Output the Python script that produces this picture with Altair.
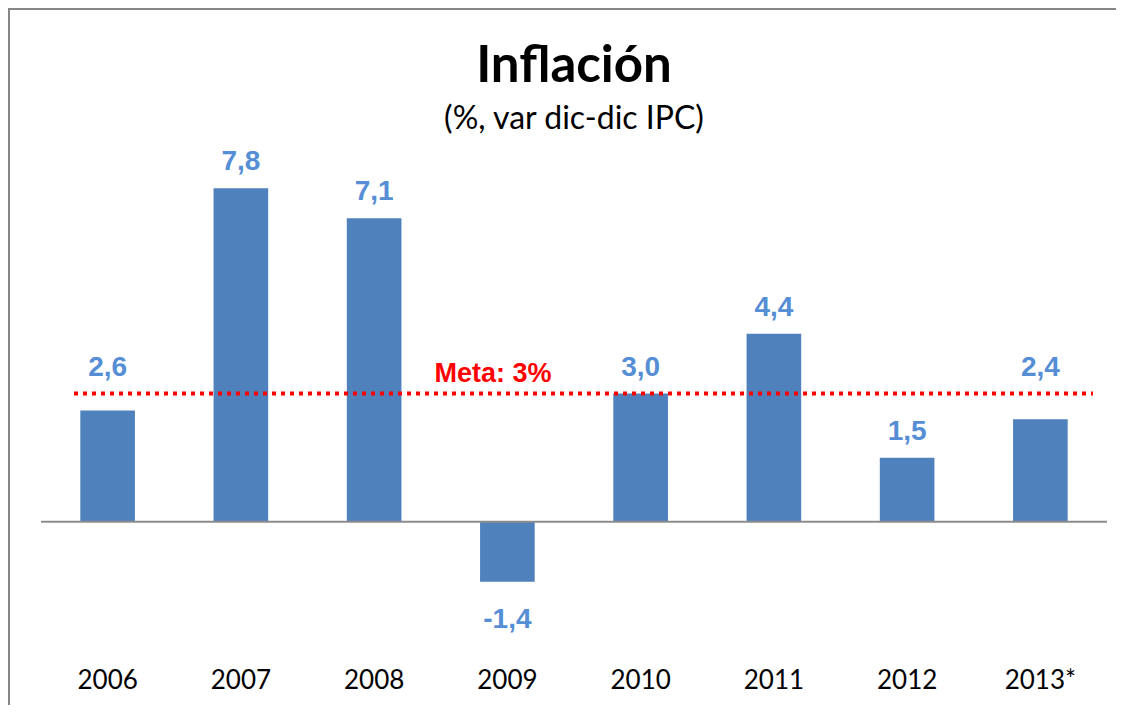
import altair as alt
import pandas as pd

years = ["2006", "2007", "2008", "2009", "2010", "2011", "2012", "2013*"]
values = [2.6, 7.8, 7.1, -1.4, 3.0, 4.4, 1.5, 2.4]
meta_value = 3.0
meta_label = "Meta: 3%"
title_text = "Inflación"
subtitle_text = "(%, var dic-dic IPC)"

df = pd.DataFrame({"year": years, "v": values})
df["label"] = [f"{v:.1f}".replace(".", ",") for v in values]
meta_df = pd.DataFrame({"meta": [meta_value], "label": [meta_label]})
one_df = pd.DataFrame({"k": [0]})
title_df = pd.DataFrame({"t": [title_text]})
subtitle_df = pd.DataFrame({"t": [subtitle_text]})

W, H = 1066, 479
PAD = {"left": 33, "top": 146, "right": 9, "bottom": 72}
yscale = alt.Scale(domain=[-2.6, 8.6], nice=False, zero=False)
xscale = alt.Scale(paddingInner=0.59, paddingOuter=0.295)

x_enc = alt.X(
    "year:N", sort=years, scale=xscale,
    axis=alt.Axis(title=None, domain=False, ticks=False, grid=False,
                  labelFont="Lato", labelFontSize=26, labelColor="black",
                  labelPadding=55, labelBaseline="alphabetic", labelAngle=0),
)

frame_top = alt.Chart(one_df).mark_rule(color="#868686", strokeWidth=2).encode(
    x=alt.value(-33), x2=alt.value(W + PAD["right"]), y=alt.value(-145)
)
frame_left = alt.Chart(one_df).mark_rule(color="#868686", strokeWidth=2).encode(
    x=alt.value(-32), y=alt.value(-146), y2=alt.value(H + PAD["bottom"])
)

title = alt.Chart(title_df).mark_text(
    font="Lato", fontWeight="bold", fontSize=51, color="black",
    align="center", baseline="alphabetic"
).encode(x=alt.value(W / 2), y=alt.value(-72), text="t:N")

subtitle = alt.Chart(subtitle_df).mark_text(
    font="Lato", fontSize=32, color="black",
    align="center", baseline="alphabetic"
).encode(x=alt.value(W / 2), y=alt.value(-25), text="t:N")

bars = alt.Chart(df).mark_bar(color="#4F81BD").encode(
    x=x_enc,
    y=alt.Y("v:Q", scale=yscale, axis=None),
)

zero = alt.Chart(one_df).mark_rule(color="#8C8C8C", strokeWidth=2).encode(
    y=alt.datum(0, type="quantitative")
)

meta_rule = alt.Chart(meta_df).mark_rule(color="#FF0000", strokeWidth=4, strokeDash=[4, 5]).encode(
    x=alt.value(33), x2=alt.value(1052), y=alt.Y("meta:Q", scale=yscale)
)

meta_text = alt.Chart(meta_df).mark_text(
    font="Liberation Sans", fontWeight="bold", fontSize=27, color="#FF0000",
    align="center", baseline="alphabetic", dy=-12
).encode(x=alt.value(452), y=alt.Y("meta:Q", scale=yscale), text="label:N")

pos_text = alt.Chart(df).transform_filter("datum.v >= 0").transform_calculate(
    ly=f"(datum.v > 2 && datum.v < {meta_value}) ? {meta_value} : datum.v"
).mark_text(
    font="Liberation Sans", fontWeight="bold", fontSize=28, color="#558ED5",
    align="center", baseline="alphabetic", dy=-18
).encode(x=alt.X("year:N", sort=years, scale=xscale), y=alt.Y("ly:Q", scale=yscale), text="label:N")

neg_text = alt.Chart(df).transform_filter("datum.v < 0").mark_text(
    font="Liberation Sans", fontWeight="bold", fontSize=28, color="#558ED5",
    align="center", baseline="alphabetic", dy=46
).encode(x=alt.X("year:N", sort=years, scale=xscale), y=alt.Y("v:Q", scale=yscale), text="label:N")

chart = alt.layer(frame_top, frame_left, title, subtitle, bars, zero, meta_rule,
                  meta_text, pos_text, neg_text).properties(
    width=W, height=H,
    autosize=alt.AutoSizeParams(type="none"),
    padding=PAD,
    background="white",
).configure_view(stroke=None)

chart.save("out.html", embed_options={"renderer": "svg", "actions": False})
